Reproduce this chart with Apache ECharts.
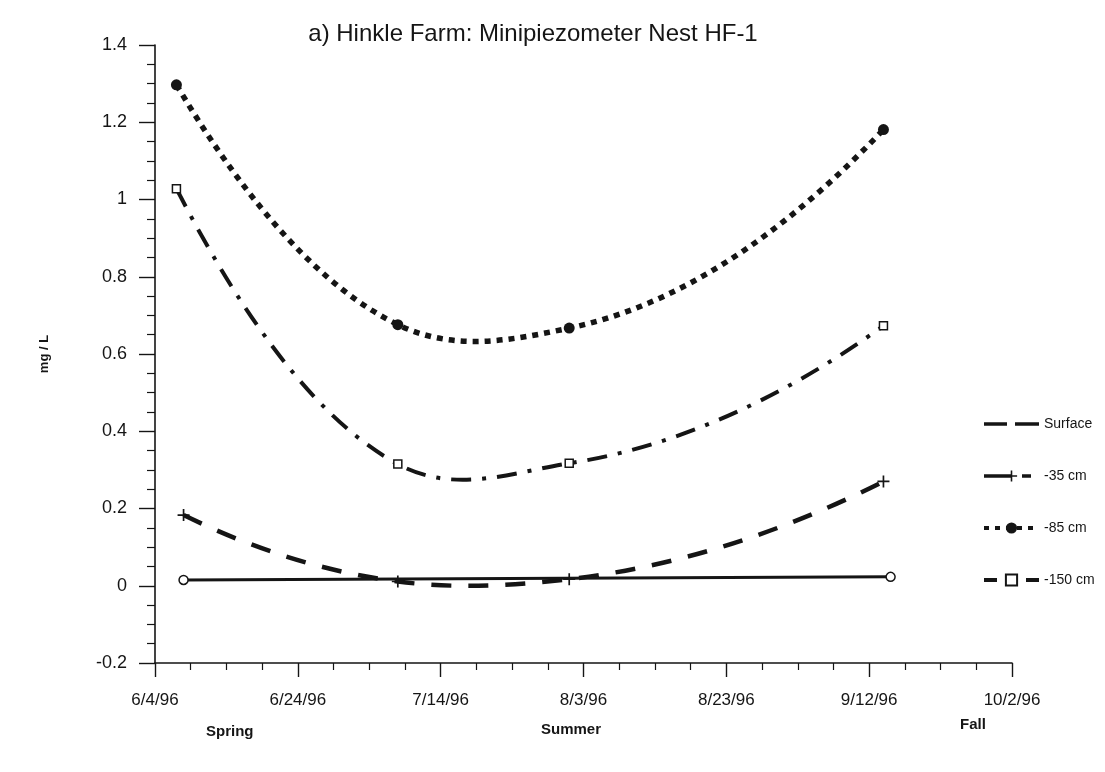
<!DOCTYPE html>
<html>
<head>
<meta charset="utf-8">
<title>Hinkle Farm: Minipiezometer Nest HF-1</title>
<script src="https://cdn.jsdelivr.net/npm/echarts@6/dist/echarts.min.js"></script>
<style>
  html, body { margin: 0; padding: 0; background: #ffffff; }
  #chart { width: 1105px; height: 772px; }
</style>
</head>
<body>
<div id="chart"></div>
<script>
// Axis origin and tick labels (x axis counts days from 6/4/96)
const startDate = '1996-06-04';
const xTickLabels = ['6/4/96', '6/24/96', '7/14/96', '8/3/96', '8/23/96', '9/12/96', '10/2/96'];

// Sampling dates and concentrations (mg/L) for each depth
const surfaceDates = ['1996-06-08', '1996-09-15'];
const surfaceValues = [0.015, 0.023];

const cm35Dates = ['1996-06-08', '1996-07-08', '1996-08-01', '1996-09-14'];
const cm35Values = [0.183, 0.011, 0.017, 0.270];

const cm85Dates = ['1996-06-07', '1996-07-08', '1996-08-01', '1996-09-14'];
const cm85Values = [1.297, 0.676, 0.667, 1.181];

const cm150Dates = ['1996-06-07', '1996-07-08', '1996-08-01', '1996-09-14'];
const cm150Values = [1.028, 0.315, 0.317, 0.673];

const seasonLabels = ['Spring', 'Summer', 'Fall'];

const DAY = 24 * 3600 * 1000;
function dayOffset(d) {
  return Math.round((Date.parse(d + 'T00:00:00Z') - Date.parse(startDate + 'T00:00:00Z')) / DAY);
}
function pairs(dates, values) {
  return dates.map((d, i) => [dayOffset(d), values[i]]);
}

// Tangent at sample i: slope of the parabola through the sample and its
// neighbours (first / last three samples at the ends).
function tangentSlope(xs, ys, i) {
  const n = xs.length;
  if (n < 3) return (ys[n - 1] - ys[0]) / (xs[n - 1] - xs[0]);
  const k = Math.min(Math.max(i - 1, 0), n - 3);
  const a = xs[k], b = xs[k + 1], c = xs[k + 2];
  const fab = (ys[k + 1] - ys[k]) / (b - a);
  const fbc = (ys[k + 2] - ys[k + 1]) / (c - b);
  const fabc = (fbc - fab) / (c - a);
  const x = xs[i];
  return fab + fabc * ((x - a) + (x - b));
}

// Smoothed curve through the samples, drawn as one Bezier path in axis coordinates
function curveSeries(id, dates, values, lineWidth, dash) {
  const pts = pairs(dates, values);
  const xs = pts.map(p => p[0]);
  const ys = pts.map(p => p[1]);
  return {
    id: id,
    type: 'custom',
    data: pts,
    encode: { x: 0, y: 1 },
    silent: true,
    z: 2,
    renderItem: function (params, api) {
      if (params.dataIndexInside !== 0) return null;
      const c0 = api.coord([xs[0], ys[0]]);
      let d = 'M' + c0[0] + ',' + c0[1];
      for (let i = 0; i < xs.length - 1; i++) {
        const a = xs[i], b = xs[i + 1], h = b - a;
        const p1 = api.coord([a + h / 3, ys[i] + tangentSlope(xs, ys, i) * h / 3]);
        const p2 = api.coord([b - h / 3, ys[i + 1] - tangentSlope(xs, ys, i + 1) * h / 3]);
        const p3 = api.coord([b, ys[i + 1]]);
        d += 'C' + p1[0] + ',' + p1[1] + ' ' + p2[0] + ',' + p2[1] + ' ' + p3[0] + ',' + p3[1];
      }
      return {
        type: 'path',
        shape: { pathData: d },
        style: { fill: null, stroke: INK, lineWidth: lineWidth, lineDash: dash, lineCap: 'butt' }
      };
    }
  };
}

const INK = '#151515';
const FONT = '"Liberation Sans", Arial, sans-serif';
const plusPath = 'path://M4.3,0h1.4v10h-1.4z M0,4.3h10v1.4h-10z';

const chart = echarts.init(document.getElementById('chart'), null, { renderer: 'canvas' });

chart.setOption({
  backgroundColor: '#ffffff',
  animation: false,
  textStyle: { fontFamily: FONT, color: INK },
  title: {
    text: 'a) Hinkle Farm: Minipiezometer Nest HF-1',
    left: 528,
    top: 17,
    textAlign: 'center',
    textStyle: { fontSize: 24, fontWeight: 'normal', color: INK, fontFamily: FONT }
  },
  grid: { left: 155, right: 93, top: 45, bottom: 109 },
  legend: {
    orient: 'vertical',
    left: 977,
    top: 412,
    itemWidth: 55,
    itemHeight: 14,
    itemGap: 38,
    textStyle: { fontSize: 14, color: INK, fontFamily: FONT },
    data: [
      { name: 'Surface', itemStyle: { opacity: 0 }, lineStyle: { type: [23, 8, 24, 100], width: 3.5, opacity: 1 } },
      { name: '-35 cm', lineStyle: { type: [27, 11, 9, 100], width: 3.5, opacity: 1 } },
      { name: '-85 cm', lineStyle: { type: [5, 6], width: 4, opacity: 1 } },
      { name: '-150 cm', lineStyle: { type: [13, 29, 13, 100], width: 4, opacity: 1 } }
    ]
  },
  xAxis: {
    type: 'value',
    min: 0,
    max: 120,
    interval: 20,
    axisLine: { onZero: false, lineStyle: { color: INK, width: 1.6 } },
    axisTick: { length: 14, lineStyle: { color: INK, width: 1.4 } },
    minorTick: { show: true, splitNumber: 4, length: 7, lineStyle: { color: INK, width: 1.2 } },
    splitLine: { show: false },
    axisLabel: {
      margin: 29,
      fontSize: 17,
      color: INK,
      fontFamily: FONT,
      formatter: v => xTickLabels[Math.round(v / 20)] || ''
    }
  },
  yAxis: {
    type: 'value',
    min: -0.2,
    max: 1.4,
    interval: 0.2,
    name: 'mg / L',
    nameLocation: 'middle',
    nameGap: 104,
    nameRotate: 90,
    nameTextStyle: { fontSize: 13, fontWeight: 'bold', color: INK, fontFamily: FONT },
    axisLine: { lineStyle: { color: INK, width: 1.6 } },
    axisTick: { length: 16, lineStyle: { color: INK, width: 1.4 } },
    minorTick: { show: true, splitNumber: 4, length: 8, lineStyle: { color: INK, width: 1.2 } },
    splitLine: { show: false },
    axisLabel: { margin: 28, fontSize: 18, color: INK, fontFamily: FONT }
  },
  series: [
    {
      name: 'Surface',
      type: 'line',
      data: pairs(surfaceDates, surfaceValues),
      symbol: 'circle',
      symbolSize: 9,
      itemStyle: { color: '#ffffff', borderColor: INK, borderWidth: 1.5 },
      lineStyle: { color: INK, width: 3, type: 'solid' },
      z: 5
    },
    // Sample markers; the curves themselves are drawn by the custom series below
    {
      name: '-35 cm',
      type: 'line',
      data: pairs(cm35Dates, cm35Values),
      symbol: plusPath,
      symbolSize: 12,
      itemStyle: { color: INK },
      lineStyle: { color: INK, width: 4, opacity: 0 },
      z: 6
    },
    {
      name: '-85 cm',
      type: 'line',
      data: pairs(cm85Dates, cm85Values),
      symbol: 'circle',
      symbolSize: 11,
      itemStyle: { color: INK },
      lineStyle: { color: INK, width: 4, opacity: 0 },
      z: 6
    },
    {
      name: '-150 cm',
      type: 'line',
      data: pairs(cm150Dates, cm150Values),
      symbol: 'rect',
      symbolSize: 8,
      itemStyle: { color: '#ffffff', borderColor: INK, borderWidth: 1.5 },
      lineStyle: { color: INK, width: 4, opacity: 0 },
      z: 6
    },
    curveSeries('curve-35', cm35Dates, cm35Values, 4.5, [20, 17]),
    curveSeries('curve-85', cm85Dates, cm85Values, 5.5, [6, 6]),
    curveSeries('curve-150', cm150Dates, cm150Values, 4, [20, 11, 4, 11])
  ],
  graphic: [
    { type: 'text', left: 206, top: 724, style: { text: seasonLabels[0], font: 'bold 15px ' + FONT, fill: INK } },
    { type: 'text', left: 541, top: 722, style: { text: seasonLabels[1], font: 'bold 15px ' + FONT, fill: INK } },
    { type: 'text', left: 960, top: 717, style: { text: seasonLabels[2], font: 'bold 15px ' + FONT, fill: INK } }
  ]
});
</script>
</body>
</html>
